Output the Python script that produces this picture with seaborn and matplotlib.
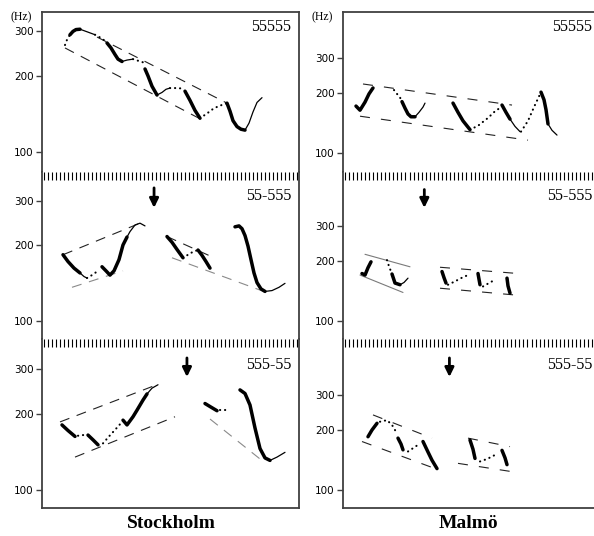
import numpy as np
import pandas as pd
import matplotlib
matplotlib.use("Agg")
import matplotlib.pyplot as plt
import seaborn as sns
from matplotlib.ticker import NullLocator

sns.set_theme(style="white")
plt.rcParams['font.family'] = ['Liberation Serif', 'DejaVu Serif']
plt.rcParams['text.color'] = 'black'
plt.rcParams['ytick.labelcolor'] = 'black'

# ---------------- data: time (cs) and F0 (Hz) ----------------
# Stockholm 55555
STH_55555 = [
    ("dot",   [23, 25, 28], [265, 278, 291]),
    ("thick", [28, 31, 34, 38], [291, 300, 305, 306]),
    ("thin",  [38, 45, 53], [306, 299, 291]),
    ("dot",   [53, 58, 62, 65], [291, 284, 277, 270]),
    ("thick", [65, 69, 73, 76, 80], [270, 258, 243, 233, 228]),
    ("thin",  [80, 85, 91], [228, 231, 233]),
    ("dot",   [91, 97, 103], [233, 229, 225]),
    ("thick", [103, 106, 110, 115], [213, 200, 182, 168]),
    ("thin",  [115, 120, 124, 128], [168, 172, 177, 179]),
    ("dot",   [128, 135, 142], [179, 179, 178]),
    ("thick", [143, 148, 153, 158], [174, 160, 146, 136]),
    ("dot",   [158, 165, 172, 179, 185], [136, 142, 149, 153, 156]),
    ("thick", [185, 188, 191, 195, 199, 203], [156, 145, 133, 126, 123, 122]),
    ("thin",  [203, 207, 211, 215, 220], [122, 130, 144, 157, 164]),
]
STH_55555_LINES = [
    ("dash", [55, 185], [285, 156]),
    ("dash", [23, 160], [258, 134]),
]

# Stockholm 55-555
STH_55_555 = [
    ("thick", [21, 26, 32, 38], [183, 172, 162, 155]),
    ("thin",  [38, 42, 45], [155, 150, 148]),
    ("dot",   [45, 50, 55], [148, 152, 157]),
    ("thick", [60, 64, 68, 72, 77, 81, 85], [164, 158, 152, 158, 175, 200, 215]),
    ("thin",  [85, 88, 93, 98, 103], [215, 226, 240, 244, 238]),
    ("thick", [125, 130, 135, 141], [216, 205, 192, 178]),
    ("dot",   [141, 146, 151, 156], [178, 183, 188, 191]),
    ("thick", [156, 160, 164, 168], [191, 182, 172, 162]),
    ("thick", [193, 197, 200, 203, 206, 209, 212, 215, 219, 223],
              [236, 238, 232, 218, 198, 175, 155, 142, 134, 131]),
    ("thin",  [223, 230, 237, 243], [131, 132, 136, 141]),
]
STH_55_555_LINES = [
    ("dash", [21, 98], [183, 244]),
    ("gdash", [30, 81], [136, 158]),
    ("dash", [125, 168], [216, 181]),
    ("gdash", [130, 224], [178, 130]),
]

# Stockholm 555-55
STH_555_55 = [
    ("thick", [20, 26, 33], [181, 172, 163]),
    ("dot",   [36, 40, 43], [164, 165, 165]),
    ("thick", [46, 51, 56], [165, 158, 151]),
    ("dot",   [61, 67, 73, 79], [153, 163, 173, 184]),
    ("thick", [81, 85, 91, 95, 101, 105], [189, 181, 195, 207, 227, 240]),
    ("thin",  [105, 110, 116], [240, 253, 261]),
    ("thick", [163, 168, 175], [220, 214, 206]),
    ("dot",   [178, 181, 185], [207, 207, 207]),
    ("thick", [198, 203, 208, 213, 218, 223, 228], [249, 241, 217, 176, 146, 134, 131]),
    ("thin",  [228, 235, 243], [131, 135, 141]),
]
STH_555_55_LINES = [
    ("dash", [18, 117], [186, 263]),
    ("dash", [33, 133], [135, 195]),
    ("gdash", [168, 223], [191, 128]),
]

# Malmö 55555
MAL_55555 = [
    ("thick", [13, 17, 22, 26, 30], [172, 164, 180, 198, 212]),
    ("dot",   [51, 54, 57, 59], [207, 198, 190, 181]),
    ("thick", [59, 62, 65, 68, 72], [181, 168, 157, 152, 152]),
    ("thin",  [72, 76, 80, 82], [152, 160, 170, 178]),
    ("thick", [110, 115, 120, 127], [178, 160, 145, 131]),
    ("dot",   [127, 135, 145, 152, 159], [131, 137, 150, 162, 171]),
    ("thick", [159, 163, 167], [174, 160, 148]),
    ("thin",  [167, 172, 177], [148, 136, 128]),
    ("dot",   [178, 185, 191, 198], [128, 145, 170, 202]),
    ("thick", [198, 201, 203, 205], [202, 185, 165, 140]),
    ("thin",  [205, 209, 214], [140, 130, 123]),
]
MAL_55555_LINES = [
    ("sdash", [20, 169], [222, 174]),
    ("sdash", [17, 185], [153, 116]),
]

# Malmö 55-555
MAL_55_555 = [
    ("thick", [19, 22, 25, 28], [173, 170, 185, 198]),
    ("dot",   [44, 46, 49], [202, 188, 172]),
    ("thick", [49, 52, 57], [172, 155, 152]),
    ("thin",  [57, 61, 65], [152, 156, 164]),
    ("thick", [99, 101, 103], [177, 165, 155]),
    ("dot",   [105, 112, 118, 125], [152, 158, 164, 170]),
    ("thick", [135, 136, 137], [173, 162, 152]),
    ("dot",   [140, 146, 152], [149, 155, 161]),
    ("thick", [164, 165, 167], [164, 150, 138]),
]
MAL_55_555_LINES = [
    ("gline", [22, 67], [216, 187]),
    ("gline", [17, 60], [170, 139]),
    ("sdash", [97, 172], [186, 173.5]),
    ("sdash", [97, 172], [146, 135]),
]

# Malmö 555-55
MAL_555_55 = [
    ("thick", [25, 29, 34], [185, 200, 216]),
    ("dot",   [37, 44, 49, 54], [220, 224, 212, 192]),
    ("thick", [55, 58, 60], [182, 170, 159]),
    ("dot",   [65, 70, 77], [156, 162, 171]),
    ("thick", [80, 85, 89, 94], [175, 155, 141, 128]),
    ("thick", [127, 130, 132], [178, 160, 144]),
    ("dot",   [137, 144, 150, 155], [139, 143, 148, 153]),
    ("thick", [159, 162, 164], [158, 145, 134]),
]
MAL_555_55_LINES = [
    ("sdash", [30, 89], [238, 182]),
    ("sdash", [19, 94], [175, 127]),
    ("sdash", [125, 167], [182, 165]),
    ("sdash", [115, 167], [136, 124]),
]

PANEL_LABELS = ["55555", "55-555", "555-55"]
COLUMN_TITLES = ["Stockholm", "Malmö"]
Y_TICKS = [100, 200, 300]

# ---------------- layout ----------------
W, H = 594, 536
fig = plt.figure(figsize=(W / 100, H / 100), dpi=100)

def px_rect(x0, x1, y0, y1):
    return [x0 / W, 1 - y1 / H, (x1 - x0) / W, (y1 - y0) / H]

rows_px = [(12, 172), (172, 339), (339, 508)]
cols_px = [(42, 299), (343, 594)]
ylims = [
    [(83.3, 358), (84.9, 389), (84.9, 396)],
    [(80.3, 510), (81.2, 559), (81.2, 572)],
]
xlims = [(0, 257), (0, 251)]
data = [
    [(STH_55555, STH_55555_LINES), (STH_55_555, STH_55_555_LINES), (STH_555_55, STH_555_55_LINES)],
    [(MAL_55555, MAL_55555_LINES), (MAL_55_555, MAL_55_555_LINES), (MAL_555_55, MAL_555_55_LINES)],
]

LW = {"thick": 2.5, "thin": 0.9, "dot": 1.5}
LINE_STY = {
    "dash":  dict(color="#222222", lw=0.8, dashes=(9, 7)),
    "gdash": dict(color="#8a8a8a", lw=0.8, dashes=(9, 7)),
    "sdash": dict(color="#222222", lw=0.8, dashes=(9, 10)),
    "gline": dict(color="#7a7a7a", lw=0.8, dashes=None),
}
arrows = {(0, 1): (0.436, 0.905, 0.785), (1, 1): (0.324, 0.895, 0.785),
          (0, 2): (0.564, 0.888, 0.775), (1, 2): (0.424, 0.888, 0.775)}

spine_col = "#404040"
for c, (cx0, cx1) in enumerate(cols_px):
    for r, (ry0, ry1) in enumerate(rows_px):
        ax = fig.add_axes(px_rect(cx0, cx1, ry0, ry1))
        ax.set_yscale("log")
        segs, lines = data[c][r]
        for kind, xs, hz in lines:
            st = LINE_STY[kind]
            df = pd.DataFrame({"t": xs, "f0": hz})
            sns.lineplot(data=df, x="t", y="f0", ax=ax, estimator=None, sort=False,
                         color=st["color"], linewidth=st["lw"], legend=False)
            ln = ax.lines[-1]
            if st["dashes"] is not None:
                ln.set_dashes(st["dashes"])
        for kind, xs, hz in segs:
            df = pd.DataFrame({"t": xs, "f0": hz})
            sns.lineplot(data=df, x="t", y="f0", ax=ax, estimator=None, sort=False,
                         color="black", linewidth=LW[kind], legend=False)
            ln = ax.lines[-1]
            ln.set_solid_capstyle("round")
            ln.set_solid_joinstyle("round")
            if kind == "dot":
                ln.set_dashes([0.1, 2.3])
                ln.set_dash_capstyle("round")
        ax.set_xlim(*xlims[c])
        ax.set_ylim(*ylims[c][r])
        ax.set_xlabel("")
        ax.set_ylabel("")
        ax.set_xticks([])
        ax.set_yticks(Y_TICKS)
        ax.set_yticklabels([str(v) for v in Y_TICKS], fontfamily="DejaVu Sans", fontsize=7.5,
                           color="black")
        ax.yaxis.set_minor_locator(NullLocator())
        ax.tick_params(axis="y", direction="out", length=4, width=1, color=spine_col, pad=2, left=True)
        for s in ax.spines.values():
            s.set_color(spine_col)
            s.set_linewidth(1.3)
        ax.spines["top"].set_visible(r == 0)
        ax.spines["bottom"].set_visible(r == 2)
        ax.spines["right"].set_visible(c == 0)
        if r > 0:
            n = 64 if c == 0 else 62
            xs_h = np.linspace(0.006, 0.994, n)
            ax.vlines(xs_h, 0.952, 1.0, transform=ax.transAxes, color="black", lw=0.8, clip_on=False)
        lab_y = [0.906, 0.855, 0.846][r]
        lab_x = 0.969 if c == 0 else 0.992
        ax.text(lab_x, lab_y, PANEL_LABELS[r], transform=ax.transAxes, ha="right", va="center",
                fontsize=11.5, color="black")
        if (c, r) in arrows:
            ax_x, y_top, y_bot = arrows[(c, r)]
            ax.annotate("", xy=(ax_x, y_bot), xytext=(ax_x, y_top), xycoords="axes fraction",
                        arrowprops=dict(arrowstyle="-|>,head_width=0.22,head_length=0.45",
                                        lw=2.0, color="black", mutation_scale=12,
                                        shrinkA=0, shrinkB=0))

fig.text(21 / W, 1 - 17 / H, "(Hz)", ha="center", va="center", fontsize=8.5, color="black")
fig.text(322 / W, 1 - 17 / H, "(Hz)", ha="center", va="center", fontsize=8.5, color="black")
fig.text(171 / W, 1 - 524 / H, COLUMN_TITLES[0], ha="center", va="center", fontsize=14,
         fontweight="bold", color="black")
fig.text(468 / W, 1 - 524 / H, COLUMN_TITLES[1], ha="center", va="center", fontsize=14,
         fontweight="bold", color="black")

fig.savefig("out.png", dpi=100, facecolor="white")
